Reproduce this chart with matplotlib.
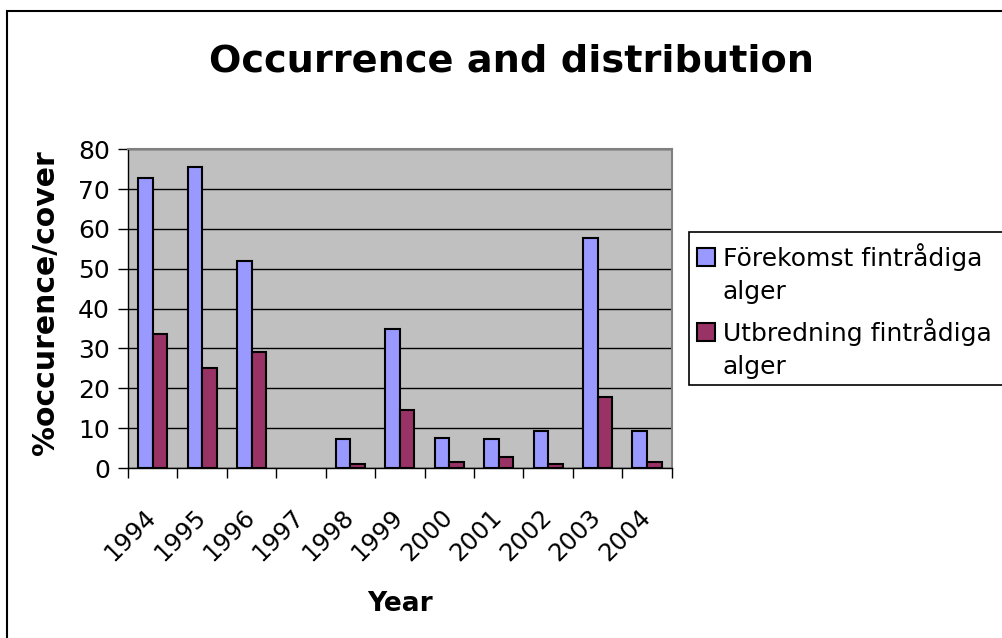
import matplotlib
matplotlib.use("Agg")
import matplotlib.pyplot as plt
from matplotlib.patches import Rectangle
import matplotlib.transforms as mtransforms
import numpy as np

years = ["1994", "1995", "1996", "1997", "1998", "1999", "2000", "2001", "2002", "2003", "2004"]
forekomst = [72.8, 75.5, 52.0, np.nan, 7.4, 34.8, 7.6, 7.3, 9.3, 57.7, 9.3]
utbredning = [33.7, 25.0, 29.0, np.nan, 1.0, 14.5, 1.6, 2.7, 1.0, 17.7, 1.6]
series_names = ["Förekomst fintrådiga\nalger", "Utbredning fintrådiga\nalger"]
series_colors = ['#9999FF', '#993366']
title = "Occurrence and distribution"
xlabel = "Year"
ylabel = "%occurence/cover"
yticks = [0, 10, 20, 30, 40, 50, 60, 70, 80]

plt.rcParams['font.family'] = ['DejaVu Sans']

W, H = 1002, 638
fig = plt.figure(figsize=(W / 100, H / 100), dpi=100)


def fx(px):
    return px / W


def fy(py):
    return 1 - py / H


# outer chart border (right/bottom edges lie outside the image)
fig.patches.append(Rectangle((fx(7), -0.1), 1.2, fy(11) + 0.1, transform=fig.transFigure,
                             fill=False, edgecolor='black', linewidth=1.5))

left, right, top, bottom = 128, 671.7, 149.3, 468
ax = fig.add_axes([fx(left), fy(bottom), fx(right) - fx(left), fy(top) - fy(bottom)])
ax.set_facecolor('#C0C0C0')

x = np.arange(len(years))
bw = 0.296
b1 = ax.bar(x - bw / 2, forekomst, bw, color=series_colors[0], edgecolor='black', linewidth=1.5,
            zorder=3)
b2 = ax.bar(x + bw / 2, utbredning, bw, color=series_colors[1], edgecolor='black', linewidth=1.5,
            zorder=3)

ax.set_xlim(-0.5, len(years) - 0.5)
ax.set_ylim(0, 80)
ax.set_yticks(yticks)
ax.yaxis.grid(True, color='black', linewidth=1)
ax.set_axisbelow(True)
ax.tick_params(axis='y', labelsize=18, length=7, width=1, direction='out', pad=6)

ax.set_xticks(x)
ax.set_xticklabels(years, rotation=45, ha='right', rotation_mode='anchor', fontsize=17.5)
ax.tick_params(axis='x', which='major', length=0, pad=26.6)
offset = mtransforms.ScaledTranslation(-9 / 100, 0, fig.dpi_scale_trans)
for lab in ax.get_xticklabels():
    lab.set_transform(lab.get_transform() + offset)
ax.set_xticks(np.arange(len(years) + 1) - 0.5, minor=True)
ax.tick_params(axis='x', which='minor', length=7, width=1, direction='out')

for s in ['top', 'right']:
    ax.spines[s].set_color('#808080')
    ax.spines[s].set_linewidth(1.5)
for s in ['left', 'bottom']:
    ax.spines[s].set_color('black')
    ax.spines[s].set_linewidth(1)

fig.text(fx(512), fy(71.7), title, ha='center', va='baseline', fontsize=27.5, fontweight='bold')
fig.text(fx(400), fy(610.7), xlabel, ha='center', va='baseline', fontsize=19, fontweight='bold')
fig.text(fx(46), fy(303), ylabel, ha='center', va='center', rotation=90, fontsize=21.5,
         fontweight='bold')

# legend drawn manually (square aligned with the first line, box runs off the right edge)
fig.patches.append(Rectangle((fx(689.3), fy(385)), 1.0, fy(231.7) - fy(385),
                             transform=fig.transFigure, fill=True, facecolor='white',
                             edgecolor='black', linewidth=1.2, zorder=1))
entry_baselines = [265.7, 341.0]
for name, col, base in zip(series_names, series_colors, entry_baselines):
    fig.patches.append(Rectangle((fx(697), fy(base)), fx(18) - fx(0), fy(base - 18) - fy(base),
                                 transform=fig.transFigure, facecolor=col,
                                 edgecolor='black', linewidth=1.5, zorder=2))
    first, second = name.split("\n")
    fig.text(fx(723), fy(base), first, ha='left', va='baseline', fontsize=18, zorder=3)
    fig.text(fx(723), fy(base + 33.3), second, ha='left', va='baseline', fontsize=18, zorder=3)

fig.savefig('out.png', dpi=100)
